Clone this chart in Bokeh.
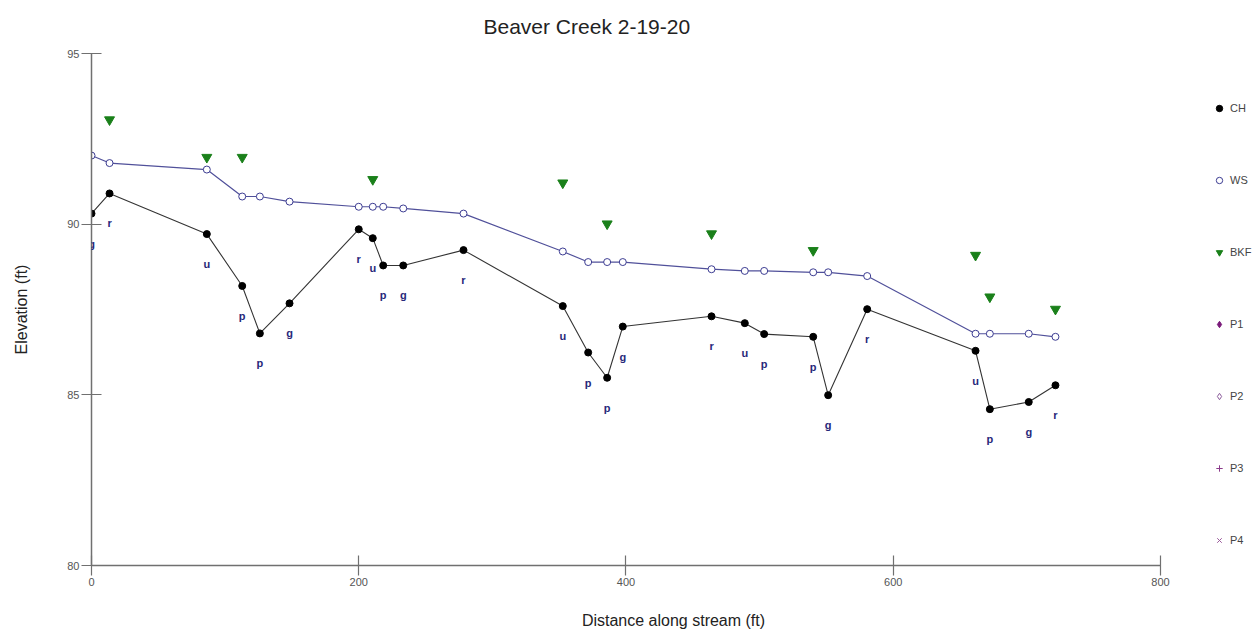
from bokeh.plotting import figure
from bokeh.models import (ColumnDataSource, LabelSet, Legend, LegendItem, Title,
                          FixedTicker)
from bokeh.core.properties import value
from bokeh.embed import file_html
from bokeh.resources import INLINE

NaN = float("nan")

# ---- data ----
distance = [0, 13.5, 86.3, 112.8, 126, 148.2, 200, 210.5, 218.3, 233.3, 278.4,
            352.7, 371.7, 385.9, 397.6, 464, 488.9, 503.4, 540.1, 551.3, 580.5,
            661.6, 672.3, 701.4, 721.4]
ch = [90.31, 90.90, 89.71, 88.19, 86.80, 87.68, 89.85, 89.59, 88.79, 88.79, 89.24,
      87.60, 86.24, 85.50, 87.00, 87.30, 87.10, 86.78, 86.70, 84.99, 87.51,
      86.29, 84.58, 84.79, 85.28]
ws = [92.01, 91.79, 91.60, 90.81, 90.81, 90.66, 90.51, 90.51, 90.51, 90.46, 90.31,
      89.20, 88.89, 88.89, 88.89, 88.68, 88.63, 88.63, 88.59, 88.59, 88.48,
      86.79, 86.79, 86.79, 86.70]
features = ["g", "r", "u", "p", "p", "g", "r", "u", "p", "g", "r",
            "u", "p", "p", "g", "r", "u", "p", "p", "g", "r",
            "u", "p", "g", "r"]
bkf_x = [13.5, 86.3, 112.8, 210.5, 352.7, 385.9, 464, 540.1, 661.6, 672.3, 721.4]
bkf_y = [93.06, 91.96, 91.96, 91.31, 91.21, 90.01, 89.72, 89.23, 89.09, 87.87, 87.51]
# profile series P1..P4 have no points in this survey
p_empty_x = [NaN]
p_empty_y = [NaN]

x_ticks = [0, 200, 400, 600, 800]
y_ticks = [80, 85, 90, 95]

FONT = "Liberation Sans"

# the plotting frame runs on past 800 ft to make room for the legend;
# the x axis itself is bounded to 0..800
p = figure(width=1255, height=631, x_range=(0, 871.1), y_range=(80, 95),
           output_backend="svg", toolbar_location=None,
           min_border_left=91, min_border_right=0, min_border_top=52,
           min_border_bottom=0)
p.outline_line_color = None
p.xgrid.visible = False
p.ygrid.visible = False

p.title = Title(text="Beaver Creek 2-19-20", text_font=FONT, text_font_size="21px",
                text_font_style="normal", text_color="#222222", align="left",
                offset=392, standoff=28, vertical_align="top")

for ax in (p.xaxis[0], p.yaxis[0]):
    ax.axis_line_color = "#707070"
    ax.axis_line_width = 1.5
    ax.major_tick_line_color = "#707070"
    ax.major_tick_line_width = 1.2
    ax.major_tick_in = 10
    ax.major_tick_out = 10
    ax.minor_tick_line_color = None
    ax.major_label_text_font = FONT
    ax.major_label_text_font_size = "11px"
    ax.major_label_text_color = "#555555"
    ax.major_label_standoff = 2
    ax.axis_label_text_font = FONT
    ax.axis_label_text_font_size = "16px"
    ax.axis_label_text_font_style = "normal"
    ax.axis_label_text_color = "#222222"

p.xaxis[0].ticker = FixedTicker(ticks=x_ticks)
p.xaxis[0].bounds = (0, 800)
p.yaxis[0].ticker = FixedTicker(ticks=y_ticks)
p.xaxis[0].axis_label = "Distance along stream (ft)"
p.yaxis[0].axis_label = "Elevation (ft)"
p.xaxis[0].axis_label_standoff = 23
p.yaxis[0].axis_label_standoff = 34

src = ColumnDataSource(dict(x=distance, ch=ch, ws=ws, f=features))

# water surface
p.line("x", "ws", source=src, line_color="#50509a", line_width=1.2)
ws_r = p.scatter("x", "ws", source=src, marker="circle", size=7,
                 fill_color="white", line_color="#3c3c92", line_width=1)

# channel
p.line("x", "ch", source=src, line_color="#333333", line_width=1.1)
ch_r = p.scatter("x", "ch", source=src, marker="circle", size=7,
                 fill_color="black", line_color="black")

# bankfull
bkf_r = p.scatter(bkf_x, bkf_y, marker="inverted_triangle", size=10,
                  fill_color="#1a801a", line_color="#1a801a")

# empty profile series (legend only)
p1_r = p.scatter(p_empty_x, p_empty_y, marker="diamond", size=9,
                 fill_color="#7a1a7a", line_color="#7a1a7a")
p2_r = p.scatter(p_empty_x, p_empty_y, marker="diamond", size=9,
                 fill_color="white", line_color="#8a5a9a")
p3_r = p.scatter(p_empty_x, p_empty_y, marker="cross", size=8,
                 line_color="#8a3a8a")
p4_r = p.scatter(p_empty_x, p_empty_y, marker="x", size=7,
                 line_color="#9a5a9a")

labels = LabelSet(x="x", y="ch", text="f", source=src, y_offset=-30,
                  text_align="center", text_baseline="middle",
                  text_font=value(FONT), text_font_size=value("11px"),
                  text_font_style="bold", text_color="#28287a")
p.add_layout(labels)

legend = Legend(items=[
    LegendItem(label="CH", renderers=[ch_r]),
    LegendItem(label="WS", renderers=[ws_r]),
    LegendItem(label="BKF", renderers=[bkf_r]),
    LegendItem(label="P1", renderers=[p1_r]),
    LegendItem(label="P2", renderers=[p2_r]),
    LegendItem(label="P3", renderers=[p3_r]),
    LegendItem(label="P4", renderers=[p4_r]),
], location=(1120, 15), orientation="vertical",
    glyph_width=16, glyph_height=20, label_height=20, spacing=52,
    label_standoff=3, padding=0, margin=0,
    border_line_color=None, background_fill_alpha=0,
    label_text_font=FONT, label_text_font_size="11px", label_text_color="#444444")
p.add_layout(legend, "center")

open("out.html", "w").write(file_html(p, INLINE))
